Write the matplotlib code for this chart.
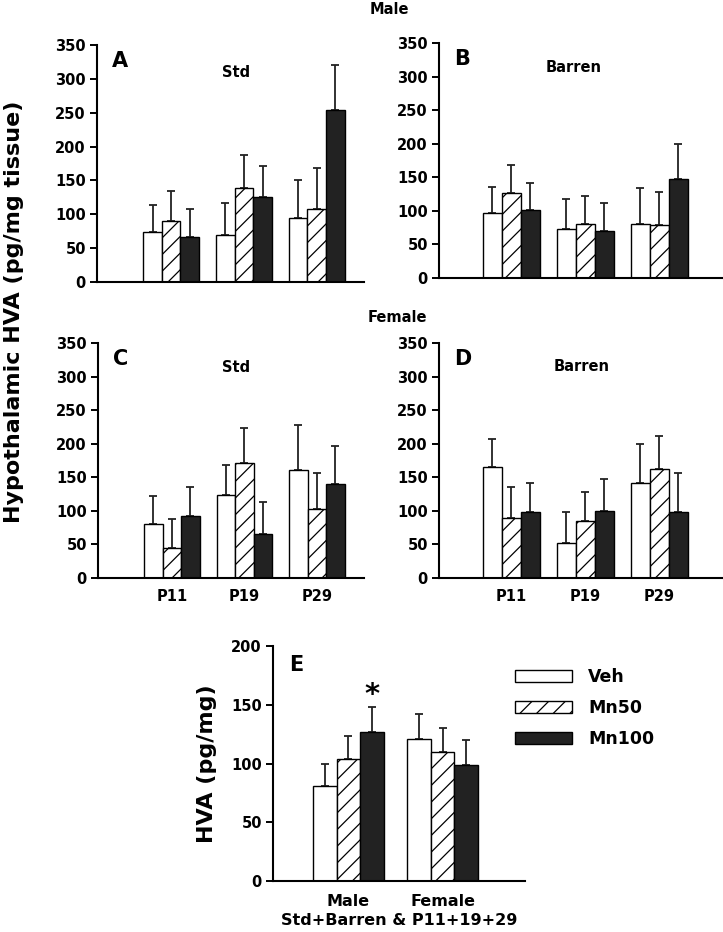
import numpy as np
import matplotlib.pyplot as plt
from matplotlib.patches import Patch

plt.rcParams['font.family'] = 'DejaVu Sans'
plt.rcParams['font.weight'] = 'bold'
plt.rcParams['axes.labelweight'] = 'bold'
plt.rcParams['hatch.linewidth'] = 0.9

ages = ['P11', 'P19', 'P29']
groups = ['Veh', 'Mn50', 'Mn100']

# panel A: male, standard housing
a_veh = [74, 69, 95]
a_veh_se = [40, 47, 56]
a_mn50 = [90, 139, 108]
a_mn50_se = [44, 49, 60]
a_mn100 = [67, 125, 254]
a_mn100_se = [41, 47, 66]

# panel B: male, barren
b_veh = [97, 73, 81]
b_veh_se = [38, 45, 53]
b_mn50 = [127, 81, 79]
b_mn50_se = [42, 41, 49]
b_mn100 = [101, 70, 147]
b_mn100_se = [41, 42, 53]

# panel C: female, standard housing
c_veh = [81, 124, 161]
c_veh_se = [41, 44, 67]
c_mn50 = [45, 171, 103]
c_mn50_se = [43, 53, 53]
c_mn100 = [93, 66, 140]
c_mn100_se = [42, 47, 56]

# panel D: female, barren
d_veh = [166, 52, 142]
d_veh_se = [41, 46, 58]
d_mn50 = [89, 85, 163]
d_mn50_se = [46, 43, 48]
d_mn100 = [99, 100, 99]
d_mn100_se = [43, 48, 58]

# panel E: pooled
sexes = ['Male', 'Female']
e_veh = [81, 121]
e_veh_se = [19, 21]
e_mn50 = [104, 110]
e_mn50_se = [19, 20]
e_mn100 = [127, 99]
e_mn100_se = [21, 21]

W, H = 723, 932
dark = '#222222'
styles = [dict(color='white', hatch=None),
          dict(color='white', hatch='//'),
          dict(color=dark, hatch=None)]


def box(l, r, t, b):
    return [l / W, 1 - b / H, (r - l) / W, (b - t) / H]


def style_ax(ax, ymax, step):
    ax.set_ylim(0, ymax)
    ax.set_yticks(np.arange(0, ymax + 1, step))
    for s in ['top', 'right']:
        ax.spines[s].set_visible(False)
    for s in ['left', 'bottom']:
        ax.spines[s].set_linewidth(1.5)
    ax.tick_params(axis='y', direction='out', length=5, width=1.4, labelsize=10.5, pad=3)
    ax.tick_params(axis='x', length=0, labelsize=10.5, pad=8)


def bars(ax, means, ses, bw):
    x = np.arange(len(means[0]))
    for i, (m, se, st) in enumerate(zip(means, ses, styles)):
        xi = x + (i - 1) * bw
        ax.bar(xi, m, bw, color=st['color'], hatch=st['hatch'],
               edgecolor='black', linewidth=1.0, zorder=2)
        ax.errorbar(xi, m, yerr=[np.zeros(len(m)), se], fmt='none',
                    ecolor=dark, elinewidth=1.3, capsize=3, capthick=1.3, zorder=1)
    return x


fig = plt.figure(figsize=(W / 100, H / 100), dpi=100)

panels = [
    ('A', 'Std', box(97, 364, 45, 282), (-1.02, 2.65), 0.255,
     [a_veh, a_mn50, a_mn100], [a_veh_se, a_mn50_se, a_mn100_se], False, (0.52, 0.886)),
    ('B', 'Barren', box(439, 722, 43, 278), (-0.98, 2.85), 0.257,
     [b_veh, b_mn50, b_mn100], [b_veh_se, b_mn50_se, b_mn100_se], False, (0.477, 0.894)),
    ('C', 'Std', box(98, 364, 343, 578), (-1.02, 2.65), 0.255,
     [c_veh, c_mn50, c_mn100], [c_veh_se, c_mn50_se, c_mn100_se], True, (0.52, 0.894)),
    ('D', 'Barren', box(439, 722, 343, 578), (-0.98, 2.85), 0.257,
     [d_veh, d_mn50, d_mn100], [d_veh_se, d_mn50_se, d_mn100_se], True, (0.505, 0.90)),
]

for letter, title, rect, xlim, bw, means, ses, show_x, tpos in panels:
    ax = fig.add_axes(rect)
    x = bars(ax, means, ses, bw)
    ax.set_xlim(*xlim)
    style_ax(ax, 350, 50)
    ax.set_xticks(x)
    ax.set_xticklabels(ages if show_x else [])
    ax.text(0.055, 0.975, letter, transform=ax.transAxes, fontsize=15,
            ha='left', va='top')
    ax.text(tpos[0], tpos[1], title, transform=ax.transAxes, fontsize=10.5,
            ha='center', va='center')

# panel E
axe = fig.add_axes(box(273, 525, 646, 881))
x = bars(axe, [e_veh, e_mn50, e_mn100], [e_veh_se, e_mn50_se, e_mn100_se], 0.25)
axe.set_xlim(-0.8, 1.875)
style_ax(axe, 200, 50)
axe.set_xticks(x)
axe.set_xticklabels(sexes, fontsize=11.5)
axe.tick_params(axis='x', pad=9)
axe.set_xlabel('Std+Barren & P11+19+29', fontsize=11.5, labelpad=3)
axe.set_ylabel('HVA (pg/mg)', fontsize=16, labelpad=10)
axe.text(0.065, 0.96, 'E', transform=axe.transAxes, fontsize=15, ha='left', va='top')
axe.text(x[0] + 0.25, e_mn100[0] + e_mn100_se[0] - 2, '*', fontsize=21,
         ha='center', va='bottom')

handles = [Patch(facecolor=st['color'], hatch=st['hatch'], edgecolor='black', linewidth=1.0)
           for st in styles]
fig.legend(handles, groups, loc='upper left', bbox_to_anchor=(515 / W, 1 - 668 / H),
           frameon=False, fontsize=12.5, handlelength=3.3, handleheight=0.65,
           labelspacing=0.75, handletextpad=0.9, borderaxespad=0, borderpad=0)

fig.text(389 / W, 1 - 9 / H, 'Male', fontsize=10.5, ha='center', va='center')
fig.text(397 / W, 1 - 318 / H, 'Female', fontsize=10.5, ha='center', va='center')
fig.text(14 / W, 1 - 312 / H, 'Hypothalamic HVA (pg/mg tissue)', fontsize=16,
         rotation=90, ha='center', va='center')

fig.savefig('out.png', dpi=100)
